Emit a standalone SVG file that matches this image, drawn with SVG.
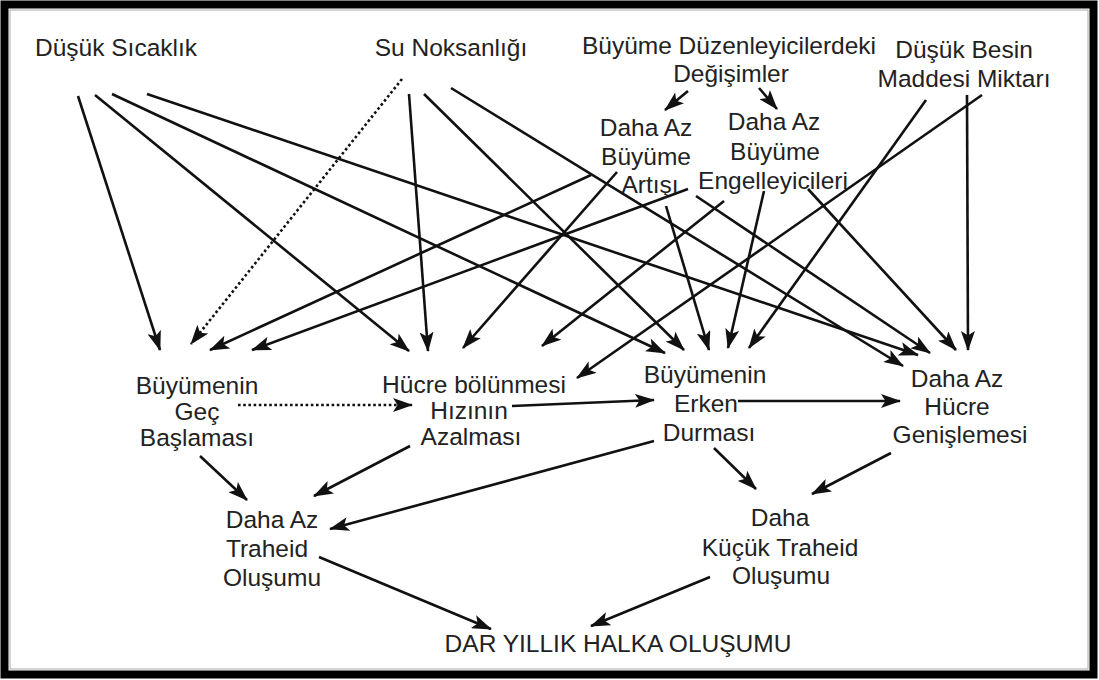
<svg xmlns="http://www.w3.org/2000/svg" width="1099" height="680" viewBox="0 0 1099 680">
<defs>
<marker id="ah" viewBox="0 0 20 14" refX="19" refY="7" markerWidth="20" markerHeight="14" markerUnits="userSpaceOnUse" orient="auto">
<path d="M0,0 L20,7 L0,14 L4.5,7 Z" fill="#111"/>
</marker>
</defs>
<style>
text{font-family:"Liberation Sans",Arial,sans-serif;font-size:24.5px;fill:#222;text-anchor:middle}
.c line{stroke:#111;stroke-width:2.6;fill:none;marker-end:url(#ah)}
.c line.dot{stroke-dasharray:2.6 2.6}
</style>
<rect x="0" y="0" width="1099" height="680" fill="#fff"/>
<rect x="4.5" y="4.5" width="1089" height="670" fill="none" stroke="#000" stroke-width="8"/>
<rect x="10" y="10" width="1078" height="659" fill="none" stroke="#aaa" stroke-width="1"/>
<g class="c" id="connectors">
<line x1="78" y1="96" x2="160" y2="350"/>
<line x1="95" y1="95" x2="409" y2="351"/>
<line x1="112" y1="94" x2="665" y2="353"/>
<line x1="147" y1="94" x2="918" y2="355"/>
<line class="dot" x1="402" y1="79" x2="191" y2="344"/>
<line x1="409" y1="94" x2="428" y2="351"/>
<line x1="424" y1="94" x2="684" y2="350"/>
<line x1="451" y1="88" x2="903" y2="366"/>
<line x1="591" y1="175" x2="210" y2="350"/>
<line x1="617" y1="172" x2="463" y2="348"/>
<line x1="666" y1="206" x2="709" y2="350"/>
<line x1="696" y1="196" x2="930" y2="353"/>
<line x1="688" y1="189" x2="252" y2="350"/>
<line x1="724" y1="201" x2="542" y2="346"/>
<line x1="764" y1="191" x2="728" y2="348"/>
<line x1="808" y1="189" x2="956" y2="350"/>
<line x1="982" y1="95" x2="577" y2="378"/>
<line x1="926" y1="100" x2="749" y2="348"/>
<line x1="967" y1="95" x2="968" y2="350"/>
<line x1="688" y1="91" x2="665" y2="110"/>
<line x1="759" y1="88" x2="777" y2="109"/>
<line class="dot" x1="238" y1="405" x2="412" y2="405"/>
<line x1="512" y1="406" x2="654" y2="400"/>
<line x1="738" y1="401" x2="900" y2="401"/>
<line x1="200" y1="456" x2="247" y2="500"/>
<line x1="410" y1="446" x2="314" y2="496"/>
<line x1="654" y1="441" x2="330" y2="529"/>
<line x1="714" y1="448" x2="756" y2="489"/>
<line x1="891" y1="453" x2="812" y2="494"/>
<line x1="319" y1="557" x2="491" y2="629"/>
<line x1="710" y1="577" x2="591" y2="626"/>
</g>
<g id="n-dusuk-sicaklik"><text x="116" y="56">Düşük Sıcaklık</text></g>
<g id="n-su-noksanligi"><text x="451" y="56">Su Noksanlığı</text></g>
<g id="n-buyume-duzenleyiciler"><text x="729" y="54">Büyüme Düzenleyicilerdeki</text><text x="731" y="82">Değişimler</text></g>
<g id="n-dusuk-besin"><text x="964" y="58">Düşük Besin</text><text x="964" y="87">Maddesi Miktarı</text></g>
<g id="n-buyume-artisi"><text x="646" y="136">Daha Az</text><text x="646" y="165">Büyüme</text><text x="650" y="193">Artışı</text></g>
<g id="n-buyume-engelleyicileri"><text x="774" y="130">Daha Az</text><text x="775" y="160">Büyüme</text><text x="773" y="189">Engelleyicileri</text></g>
<g id="n-gec-baslama"><text x="197" y="394">Büyümenin</text><text x="197" y="420">Geç</text><text x="197" y="446">Başlaması</text></g>
<g id="n-hucre-bolunmesi"><text x="474" y="393">Hücre bölünmesi</text><text x="469" y="419">Hızının</text><text x="471" y="445">Azalması</text></g>
<g id="n-erken-durma"><text x="705" y="383">Büyümenin</text><text x="706" y="412">Erken</text><text x="709" y="441">Durması</text></g>
<g id="n-hucre-genisleme"><text x="957" y="387">Daha Az</text><text x="957" y="415">Hücre</text><text x="960" y="443">Genişlemesi</text></g>
<g id="n-az-traheid"><text x="272" y="528">Daha Az</text><text x="267" y="557">Traheid</text><text x="272" y="586">Oluşumu</text></g>
<g id="n-kucuk-traheid"><text x="780" y="526">Daha</text><text x="780" y="556">Küçük Traheid</text><text x="781" y="584">Oluşumu</text></g>
<g id="n-dar-halka"><text x="618" y="652">DAR YILLIK HALKA OLUŞUMU</text></g>
</svg>
